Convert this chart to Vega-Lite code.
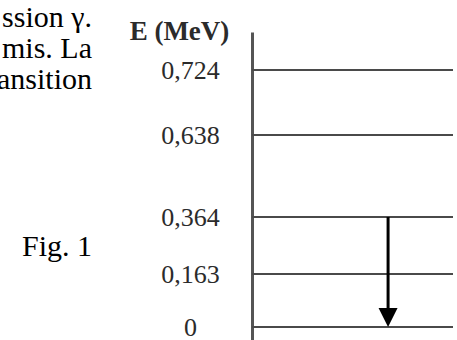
{
  "$schema": "https://vega.github.io/schema/vega-lite/v6.json",
  "width": 201,
  "height": 340,
  "autosize": {"type": "none"},
  "padding": {"left": 252, "right": 4, "top": 0, "bottom": 0},
  "background": "white",
  "title": {
    "text": ["ssion γ.", "mis. La", "ansition"],
    "subtitle": "Fig. 1",
    "anchor": "start",
    "frame": "group",
    "align": "right",
    "dx": -160,
    "offset": -262,
    "font": "Liberation Serif",
    "fontSize": 30,
    "fontWeight": "normal",
    "color": "black",
    "lineHeight": 31,
    "subtitleFont": "Liberation Serif",
    "subtitleFontSize": 30,
    "subtitleColor": "black",
    "subtitleLineHeight": 30,
    "subtitlePadding": 137
  },
  "data": {
    "values": [
      {"level": "E4", "E": 0.724},
      {"level": "E3", "E": 0.638},
      {"level": "E2", "E": 0.364},
      {"level": "E1", "E": 0.163},
      {"level": "E0", "E": 0}
    ]
  },
  "layer": [
    {
      "mark": {"type": "rule", "color": "#4a4a4a", "strokeWidth": 2},
      "encoding": {
        "y": {
          "field": "E",
          "type": "quantitative",
          "scale": {
            "domain": [-0.05, 0, 0.163, 0.364, 0.638, 0.724, 0.9],
            "range": [340, 327, 274, 217, 135, 70, 32],
            "nice": false,
            "zero": false
          },
          "axis": {
            "values": [0, 0.163, 0.364, 0.638, 0.724],
            "format": ".3~f",
            "labelExpr": "replace(datum.label, '.', ',')",
            "domain": true,
            "domainColor": "#555555",
            "domainWidth": 3,
            "ticks": false,
            "tickSize": 0,
            "grid": false,
            "labelFont": "Liberation Serif",
            "labelFontSize": 26,
            "labelColor": "#2b2b2b",
            "labelAlign": "center",
            "labelBaseline": "middle",
            "labelPadding": 62,
            "labelOverlap": false,
            "labelBound": false,
            "labelFlush": false,
            "title": "E (MeV)",
            "titleAngle": 0,
            "titleAlign": "center",
            "titleBaseline": "middle",
            "titleX": -73,
            "titleY": 31,
            "titleFont": "Liberation Serif",
            "titleFontSize": 27,
            "titleFontWeight": "bold",
            "titleColor": "#2b2b2b"
          }
        }
      }
    },
    {
      "data": {"values": [{"transition": "γ", "from": 0.364, "to": 0}]},
      "layer": [
        {
          "mark": {"type": "rule", "color": "black", "strokeWidth": 3, "y2Offset": -10},
          "encoding": {
            "x": {"field": "transition", "type": "nominal", "scale": {"type": "point", "align": 0.677}, "axis": null},
            "y": {"field": "from", "type": "quantitative"},
            "y2": {"field": "to"}
          }
        },
        {
          "mark": {"type": "point", "shape": "M-1,-2L0,0L1,-2Z", "size": 361, "filled": true, "color": "black", "opacity": 1, "strokeWidth": 0},
          "encoding": {
            "x": {"field": "transition", "type": "nominal"},
            "y": {"field": "to", "type": "quantitative"}
          }
        }
      ]
    }
  ],
  "config": {"view": {"stroke": null}}
}
